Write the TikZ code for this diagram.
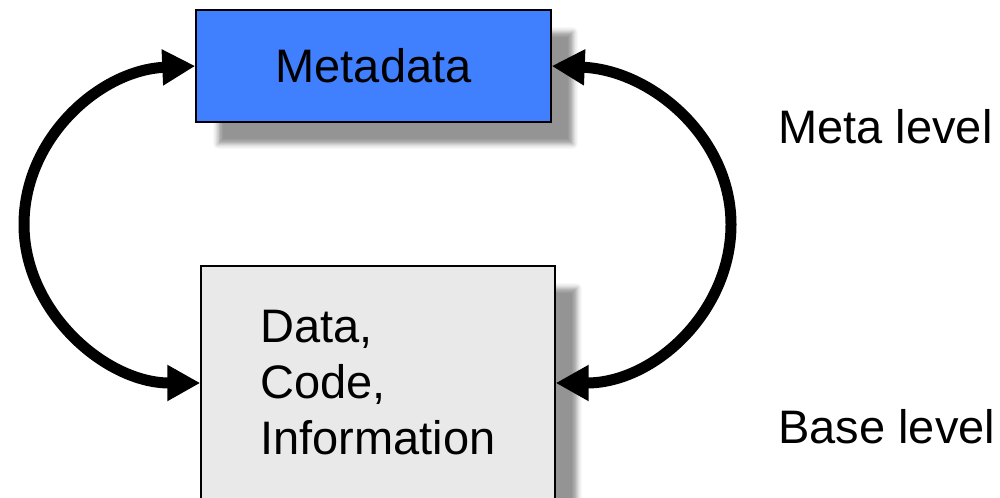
\documentclass[tikz,border=0pt]{standalone}
\usepackage{fontspec}
\setmainfont{Liberation Sans}
\usetikzlibrary{arrows.meta,shadows.blur}
\definecolor{metablue}{RGB}{64,128,255}
\definecolor{basegray}{RGB}{233,233,233}
\tikzset{
  bigtext/.style={font=\fontsize{26.75}{31.87}\selectfont},
  levelbox/.style={draw=black, line width=0.03cm, inner sep=0pt, align=left, bigtext,
    blur shadow={shadow xshift=0.44cm, shadow yshift=-0.44cm,
                 shadow blur radius=0.1cm, shadow opacity=42}},
  levellabel/.style={anchor=base west, inner sep=0pt, bigtext},
  levelarrow/.style={line width=0.22cm,
    {Triangle[length=0.66cm,width=0.68cm]}-{Triangle[length=0.66cm,width=0.68cm]}},
}
\begin{document}
\begin{tikzpicture}[x=0.02cm,y=-0.02cm]
  \useasboundingbox (0,0) rectangle (1000,497);

  % the two levels
  \node[levelbox, fill=metablue, minimum width=7.1cm, minimum height=2.24cm]
    (meta) at (373.5,66) {Metadata};
  \node[levelbox, fill=basegray, minimum width=7.08cm, minimum height=4.68cm]
    (base) at (378,383) {Data,\\Code,\\Information};

  % level names
  \node[levellabel] (metalabel) at (778,143) {Meta level};
  \node[levellabel] (baselabel) at (778,443) {Base level};

  % extreme points of the two half-ellipse loops
  \coordinate (leftmost) at (24,224.5);
  \coordinate (rightmost) at (731,224.5);

  % reflection loops between the levels
  \draw[levelarrow] (meta.west) .. controls (101,70) and (24,137) .. (leftmost)
                                .. controls (24,312) and (106,383) .. (base.west);
  \draw[levelarrow] (meta.east) .. controls (651,70) and (731,137) .. (rightmost)
                                .. controls (731,312) and (654,383) .. (base.east);
\end{tikzpicture}
\end{document}
